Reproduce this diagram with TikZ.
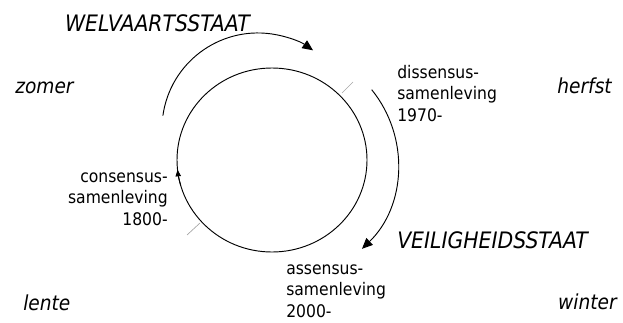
\documentclass[tikz,border=0pt]{standalone}
\usepackage{fontspec}
\setmainfont{DejaVu Sans}[FakeStretch=0.9]
\usetikzlibrary{arrows.meta}
\tikzset{
  ln/.style={line width=0.7pt, black},
  bigarr/.style={ln, -{Triangle[length=8pt,width=7pt]}},
  smallarr/.style={ln, -{Triangle[length=5pt,width=4pt]}},
  tickln/.style={line width=0.5pt, gray!70},
  big/.style={font=\fontsize{17}{20}\selectfont\itshape, inner sep=0pt},
  season/.style={font=\fontsize{15.5}{18}\selectfont\itshape, inner sep=0pt},
  era/.style={font=\fontsize{13}{16.1}\selectfont, inner sep=0pt},
}
\begin{document}
\begin{tikzpicture}[x=0.75pt,y=0.75pt]
\useasboundingbox (0,0) rectangle (623,322);
% central circle
\coordinate (C) at (272,162);
\draw[ln] (C) ellipse [x radius=71.25pt, y radius=69pt];
% arrow on circle (left side)
\coordinate (ca) at (180.7,136.6);
\draw[smallarr] (ca) arc[start angle=196, end angle=186, x radius=71.25pt, y radius=69pt];
% ticks
\coordinate (t1a) at (342,229); \coordinate (t1b) at (353,240);
\coordinate (t2a) at (200,99);  \coordinate (t2b) at (187,87);
\draw[tickln] (t1a) -- (t1b);
\draw[tickln] (t2a) -- (t2b);
% outer arcs
\coordinate (a1) at (162.9,206.4);
\draw[bigarr] (a1) arc[start angle=172, end angle=55, radius=72pt];
\coordinate (a2) at (371.7,232.3);
\draw[bigarr] (a2) arc[start angle=39, end angle=-46, radius=88.5pt];
% labels
\node[big, anchor=base east] (welv) at (250,290) {WELVAARTSSTAAT};
\node[big, anchor=base west] (veil) at (397,74) {VEILIGHEIDSSTAAT};
\node[season, anchor=base west] (zomer) at (15,229) {zomer};
\node[season, anchor=base east] (herfst) at (612,229) {herfst};
\node[season, anchor=base west] (lente) at (23,12) {lente};
\node[season, anchor=base east] (winter) at (617,13) {winter};
\node[era, align=left, anchor=base west] (diss) at (397,201) {dissensus-\\samenleving\\1970-};
\node[era, align=right, anchor=base east] (cons) at (168,97) {consensus-\\samenleving\\1800-};
\node[era, align=left, anchor=base west] (ass) at (286,5) {assensus-\\samenleving\\2000-};
\end{tikzpicture}
\end{document}
